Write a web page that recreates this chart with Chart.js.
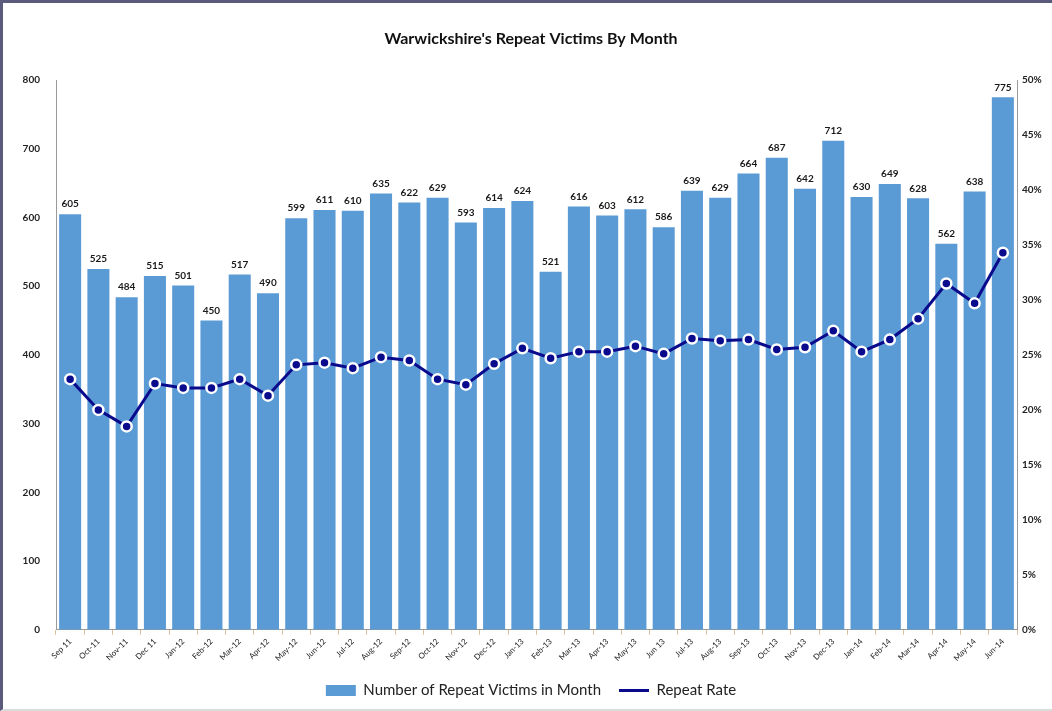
<!DOCTYPE html>
<html>
<head>
<meta charset="utf-8">
<script src="https://cdn.jsdelivr.net/npm/chart.js@4"></script>
<style>
  html, body { margin: 0; padding: 0; background: #fff; }
  #wrap {
    width: 1049px; height: 706px;
    border-top: 3px solid #5a5a7c; border-left: 3px solid #5a5a7c;
    border-bottom: 2px solid #dcdcdc;
    box-sizing: content-box;
    position: relative;
  }
</style>
</head>
<body>
<div id="wrap"><canvas id="chart"></canvas></div>
<script>
// Month labels
const months = ['Sep 11', 'Oct-11', 'Nov-11', 'Dec 11', 'Jan-12', 'Feb-12', 'Mar-12', 'Apr-12',
    'May-12', 'Jun-12', 'Jul-12', 'Aug-12', 'Sep-12', 'Oct-12', 'Nov-12', 'Dec-12',
    'Jan-13', 'Feb-13', 'Mar-13', 'Apr-13', 'May-13', 'Jun 13', 'Jul-13', 'Aug-13',
    'Sep-13', 'Oct-13', 'Nov-13', 'Dec-13', 'Jan-14', 'Feb-14', 'Mar-14', 'Apr-14',
    'May-14', 'Jun-14'];

// Number of repeat victims each month
const victims = [605, 525, 484, 515, 501, 450, 517, 490, 599, 611, 610, 635, 622, 629, 593, 614,
    624, 521, 616, 603, 612, 586, 639, 629, 664, 687, 642, 712, 630, 649, 628, 562, 638, 775];

// Repeat rate (%)
const repeatRate = [22.8, 20.0, 18.5, 22.4, 22.0, 22.0, 22.8, 21.3, 24.1, 24.3, 23.8, 24.8, 24.5, 22.8,
    22.3, 24.2, 25.6, 24.7, 25.3, 25.3, 25.8, 25.1, 26.5, 26.3, 26.4, 25.5, 25.7, 27.2, 25.3, 26.4,
    28.3, 31.5, 29.7, 34.3];

const barBlue = '#5b9bd5';
const navy = '#0a0a8c';
const fontName = 'Lato, "Liberation Sans", sans-serif';

// draws the numbers above each bar
const barLabels = {
    id: 'barLabels',
    afterDatasetsDraw(chart) {
        const ctx = chart.ctx;
        const meta = chart.getDatasetMeta(0);
        ctx.save();
        ctx.font = 'bold 10px ' + fontName;
        ctx.fillStyle = '#1a1a1a';
        ctx.textAlign = 'center';
        ctx.textBaseline = 'bottom';
        meta.data.forEach((bar, i) => {
            ctx.fillText(victims[i], bar.x, bar.y - 5);
        });
        ctx.restore();
    }
};

const chart = new Chart(document.getElementById('chart'), {
    type: 'bar',
    data: {
        labels: months,
        datasets: [{
            label: 'Number of Repeat Victims in Month',
            data: victims,
            backgroundColor: barBlue,
            borderWidth: 0,
            barPercentage: 0.78,
            categoryPercentage: 1,
            yAxisID: 'y',
            order: 1
        }, {
            type: 'line',
            label: 'Repeat Rate',
            data: repeatRate,
            borderColor: navy,
            borderWidth: 3,
            pointRadius: 5,
            pointBackgroundColor: navy,
            pointBorderColor: '#fff',
            pointBorderWidth: 2.5,
            tension: 0,
            yAxisID: 'y1',
            order: 0
        }]
    },
    options: {
        responsive: true,
        maintainAspectRatio: false,
        animation: false,
        layout: { padding: { left: 8, right: 1, top: 8, bottom: 1 } },
        plugins: {
            title: {
                display: true,
                text: "Warwickshire's Repeat Victims By Month",
                color: '#111',
                font: { family: fontName, size: 16, weight: 'bold' },
                padding: { top: 18, bottom: 32 }
            },
            legend: {
                position: 'bottom',
                labels: {
                    color: '#222',
                    font: { family: fontName, size: 15 },
                    usePointStyle: true,
                    pointStyleWidth: 30,
                    boxHeight: 11,
                    padding: 18,
                    sort: (a, b) => a.datasetIndex - b.datasetIndex,
                    generateLabels(chart) {
                        const items = Chart.defaults.plugins.legend.labels.generateLabels(chart);
                        items.forEach(it => {
                            if (it.datasetIndex === 0) {
                                it.pointStyle = 'rect';
                                it.lineWidth = 0;
                            } else {
                                it.pointStyle = 'line';
                                it.lineWidth = 3;
                                it.strokeStyle = navy;
                            }
                        });
                        return items;
                    }
                }
            },
            tooltip: { enabled: false }
        },
        scales: {
            x: {
                grid: { display: true, drawOnChartArea: false, color: '#d8c09a', tickLength: 5 },
                border: { display: true, color: '#9a9a9a' },
                ticks: {
                    color: '#222',
                    font: { family: fontName, size: 8 },
                    minRotation: 45,
                    maxRotation: 45,
                    autoSkip: false,
                    padding: 2
                },
                afterFit(scale) {
                    // let the first rotated label hang past the axis like the original
                    scale.paddingLeft = 0;
                    scale.paddingRight = 0;
                }
            },
            y: {
                position: 'left',
                min: 0,
                max: 800,
                grid: { display: false, tickLength: 0 },
                border: { display: true, color: '#9a9a9a' },
                ticks: {
                    stepSize: 100,
                    color: '#222',
                    font: { family: fontName, size: 10, weight: 'bold' },
                    padding: 16
                },
                afterFit(scale) { scale.width = 45; }
            },
            y1: {
                position: 'right',
                min: 0,
                max: 50,
                grid: { display: false, tickLength: 0 },
                border: { display: true, color: '#9a9a9a' },
                ticks: {
                    stepSize: 5,
                    color: '#222',
                    font: { family: fontName, size: 10, weight: 'bold' },
                    padding: 5,
                    callback: v => v + '%'
                },
                afterFit(scale) { scale.width = 34; }
            }
        }
    },
    plugins: [barLabels]
});
</script>
</body>
</html>
